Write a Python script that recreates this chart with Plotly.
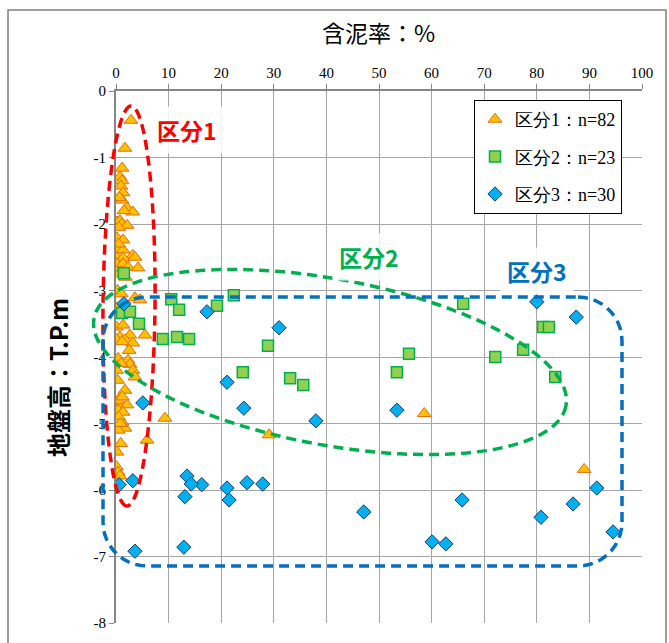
import numpy as np
import plotly.graph_objects as go

# ---------------- data ----------------
x_ticks = [0, 10, 20, 30, 40, 50, 60, 70, 80, 90, 100]
y_ticks = [0, -1, -2, -3, -4, -5, -6, -7, -8]
y_ticklabels = ["0", "-1", "-2", "-3", "-4", "-5", "-6", "-7", "-8"]

series_names = ["区分1：n=82", "区分2：n=23", "区分3：n=30"]

s1_x = [2.85, 1.7, 1.15, 0.75, 1.15, 0.95, 1.35, 1.15, 2.1, 3.2, 1.5, 0.2, 0.75, 1.15, 2.1,
        0.2, 1.35, 0.2, 1.35, 3.2, 0.2, 1.35, 3.6, 0.2, 1.35, 2.3, 4.2, 0.1, 0.6, 3.6,
        4.55, 0.1, 1.35, 0.4, 0.1, 1.35, 0.75, 2.65, 5.5, 0.1, 1.7, 3.2, 1.15, 0.4, 2.3,
        2.65, 0.1, 3.2, 3.6, 1.7, 0.1, 0.4, 2.1, 0.0, 0.4, 1.35, 1.15, 1.7, 0.4, 9.3,
        5.9, 0.2, 0.1, 0.4, 0.75, 29.1, 58.6, 89.0,
        0.5, 0.3, 0.5, 1.0, 0.6, 2.0, 0.8, 0.3, 1.0, 0.5, 1.8, 2.5, 0.9, 1.2]
s1_y = [-0.44, -0.86, -1.16, -1.29, -1.35, -1.43, -1.53, -1.64, -1.76, -1.82, -1.80, -1.97, -1.95, -2.00, -2.02,
        -2.21, -2.24, -2.39, -2.39, -2.47, -2.51, -2.51, -2.50, -2.60, -2.60, -2.65, -2.66, -2.72, -2.75, -3.11,
        -3.14, -3.26, -3.25, -3.34, -3.55, -3.52, -3.70, -3.67, -3.67, -3.74, -3.74, -3.79, -3.77, -4.02, -4.05,
        -4.11, -4.20, -4.20, -4.30, -4.50, -4.68, -4.65, -4.72, -4.80, -4.80, -4.83, -4.98, -5.07, -5.10, -4.92,
        -5.25, -5.43, -5.65, -5.73, -5.79, -5.17, -4.85, -5.69,
        -2.05, -3.00, -4.90, -4.10, -1.60, -3.30, -5.00, -4.35, -3.05, -2.30, -2.80, -3.90, -5.30, -4.60]

s2_x = [1.5, 1.14, 2.66, 4.37, 8.9, 11.6, 13.9, 10.5, 12.0, 19.2, 22.4, 28.9, 24.1, 33.1,
        35.6, 53.4, 55.7, 66.0, 72.1, 77.4, 81.2, 82.3, 83.5]
s2_y = [-2.74, -3.34, -3.32, -3.50, -3.73, -3.70, -3.73, -3.13, -3.29, -3.23, -3.07, -3.83, -4.23, -4.32,
        -4.42, -4.23, -3.95, -3.20, -4.00, -3.89, -3.55, -3.55, -4.30]

s3_x = [17.3, 31.0, 21.1, 24.3, 38.0, 53.4, 16.3, 21.1, 24.9, 27.9, 21.5, 47.1,
        13.5, 14.3, 13.1, 3.2, 0.6, 3.6, 12.9,
        80.0, 87.5, 91.4, 86.9, 80.8, 65.8, 60.1, 62.7, 94.5,
        1.5, 5.1]
s3_y = [-3.32, -3.56, -4.38, -4.77, -4.96, -4.80, -5.92, -5.97, -5.89, -5.91, -6.15, -6.33,
        -5.79, -5.91, -6.10, -5.86, -5.92, -6.92, -6.86,
        -3.17, -3.40, -5.97, -6.21, -6.41, -6.15, -6.78, -6.81, -6.63,
        -3.20, -4.69]

# ---------------- layout geometry (pixels) ----------------
W, H = 669, 643
L, R, T, B = 116, 642, 91, 623


def pxx(p):
    return (p - L) / (R - L)


def pxy(p):
    return (B - p) / (B - T)


def path_from_pixels(pts):
    return "M " + " L ".join(f"{pxx(a):.5f},{pxy(b):.5f}" for a, b in pts) + " Z"


t = np.linspace(0, 2 * np.pi, 120, endpoint=False)

# green rotated ellipse
cx, cy, a, b, ang = 330, 362, 240, 83, np.deg2rad(10.5)
ell = [(cx + a * np.cos(ang) * np.cos(tt) - b * np.sin(ang) * np.sin(tt),
        cy + a * np.sin(ang) * np.cos(tt) + b * np.cos(ang) * np.sin(tt)) for tt in t]

# red ellipse (slightly tilted)
rcx, rcy, ra, rb, rang = 129, 306, 200, 26, np.deg2rad(90.6)
red = [(rcx + ra * np.cos(rang) * np.cos(tt) - rb * np.sin(rang) * np.sin(tt),
        rcy + ra * np.sin(rang) * np.cos(tt) + rb * np.cos(rang) * np.sin(tt)) for tt in t]

# blue rounded rectangle
x0, x1, y0, y1, rr = 103, 622, 297, 566, 44
rect = []
for (ccx, ccy, a0) in [(x1 - rr, y0 + rr, -90), (x1 - rr, y1 - rr, 0),
                       (x0 + rr, y1 - rr, 90), (x0 + rr, y0 + rr, 180)]:
    for k in np.linspace(0, 90, 12):
        th = np.deg2rad(a0 + k)
        rect.append((ccx + rr * np.cos(th), ccy + rr * np.sin(th)))

fig = go.Figure()

fig.add_trace(go.Scatter(
    x=s1_x, y=s1_y, mode="markers", name=series_names[0], legendgroup="g1",
    marker=dict(symbol="triangle-up", size=12, color="#FFC000",
                line=dict(color="#E46C0A", width=1))))
fig.add_trace(go.Scatter(
    x=s2_x, y=s2_y, mode="markers", name=series_names[1], legendgroup="g2",
    marker=dict(symbol="square", size=11, color="#92D050",
                line=dict(color="#00B050", width=1.5))))
fig.add_trace(go.Scatter(
    x=s3_x, y=s3_y, mode="markers", name=series_names[2], legendgroup="g3",
    marker=dict(symbol="diamond", size=11, color="#00B0F0",
                line=dict(color="#1F3864", width=1))))

shapes = [
    dict(type="rect", xref="paper", yref="paper", x0=pxx(8), x1=pxx(666), y0=pxy(10), y1=pxy(660),
         line=dict(color="#7F7F7F", width=1.5), layer="below"),
    dict(type="path", xref="paper", yref="paper", path=path_from_pixels(red),
         line=dict(color="#FF0000", width=3.5, dash="10px,6px")),
    dict(type="path", xref="paper", yref="paper", path=path_from_pixels(ell),
         line=dict(color="#00B050", width=3.5, dash="10px,6px")),
    dict(type="path", xref="paper", yref="paper", path=path_from_pixels(rect),
         line=dict(color="#0070C0", width=3.5, dash="10px,6px")),
]

label_font = "Noto Sans CJK JP"


def ann(text, x, y, size, color, bg=None, angle=0):
    d = dict(text=text, x=pxx(x), y=pxy(y), xref="paper", yref="paper",
             xanchor="center", yanchor="middle", showarrow=False, textangle=angle,
             font=dict(family=label_font, size=size, color=color))
    if bg:
        d.update(bgcolor=bg, borderpad=6)
    return d


annotations = [
    ann("<b>区分1</b>", 187, 130, 23, "#FF0000", "rgba(255,255,255,0.85)"),
    ann("<b>区分2</b>", 369, 257, 23, "#00B050", "rgba(255,255,255,0.85)"),
    ann("<b>区分3</b>", 537, 271, 23, "#0070C0", "rgba(255,255,255,0.85)"),
    ann("<b>地盤高：T.P.m</b>", 57, 378, 24, "#000000", angle=-90),
    ann("含泥率：%", 378, 32, 23, "#000000"),
]

serif = "Liberation Serif"
fig.update_layout(
    width=W, height=H,
    margin=dict(l=L, r=W - R, t=T, b=H - B, autoexpand=False),
    paper_bgcolor="white", plot_bgcolor="white",
    font=dict(family=serif, size=15, color="#000000"),
    shapes=shapes, annotations=annotations,
    showlegend=True,
    legend=dict(x=pxx(474), y=pxy(100), xanchor="left", yanchor="top",
                bgcolor="white", bordercolor="#000000", borderwidth=1,
                font=dict(family=serif, size=18),
                tracegroupgap=11, itemwidth=30),
    xaxis=dict(side="top", range=[0, 100], tickvals=x_ticks, showgrid=True,
               gridcolor="#A6A6A6", gridwidth=1.3, showline=True, linecolor="#868686",
               linewidth=1.5, ticks="outside", ticklen=5, tickcolor="#868686",
               zeroline=False, automargin=False,
               tickfont=dict(family=serif, size=15)),
    yaxis=dict(range=[-8, 0], tickvals=y_ticks, ticktext=y_ticklabels, showgrid=True,
               gridcolor="#A6A6A6", gridwidth=1.3, showline=True, linecolor="#868686",
               linewidth=2, ticks="outside", ticklen=5, tickcolor="#868686",
               zeroline=False, automargin=False,
               tickfont=dict(family=serif, size=15)),
)

fig.write_html("out.html", config={"displayModeBar": False},
               post_script="document.body.style.margin='0px';")
